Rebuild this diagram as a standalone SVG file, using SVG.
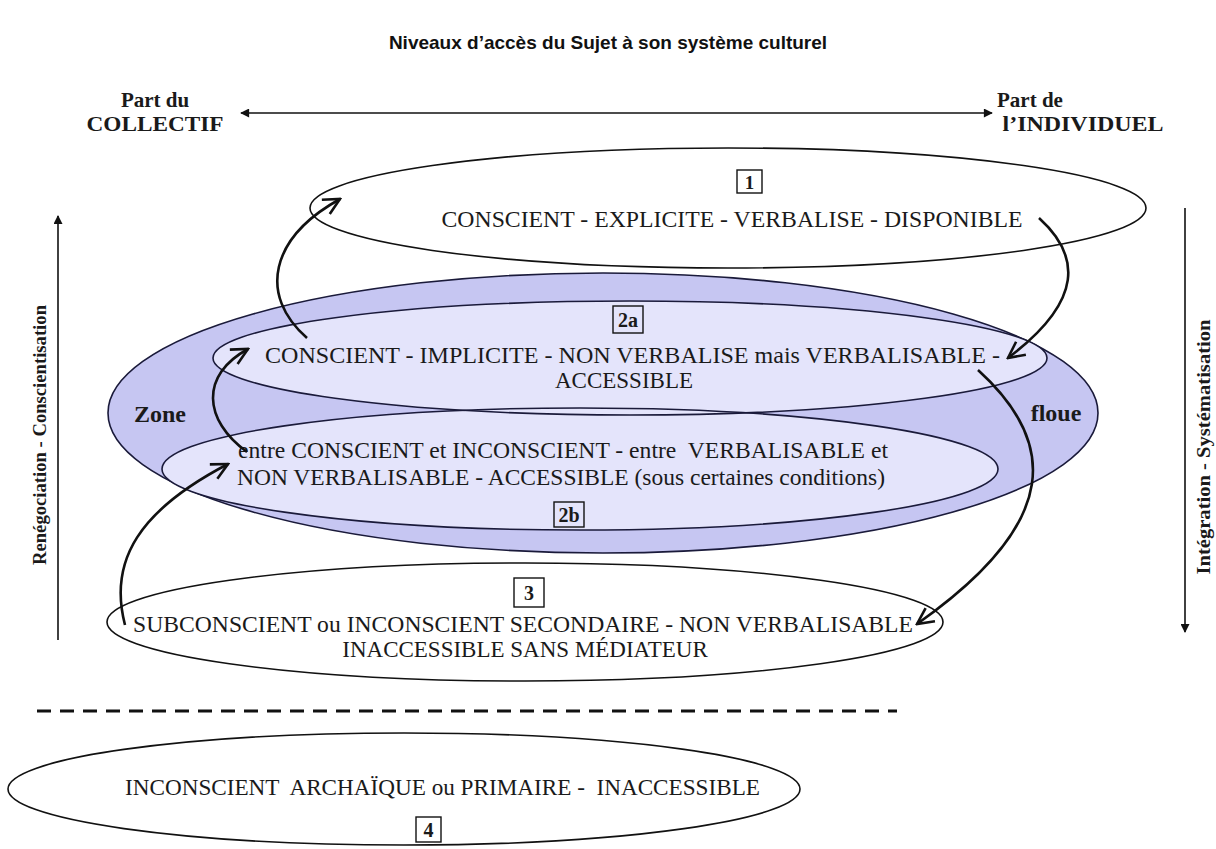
<svg xmlns="http://www.w3.org/2000/svg" width="1216" height="849" viewBox="0 0 1216 849">
<defs>
<style>
.t{font-family:"Liberation Serif","Times New Roman",serif;fill:#1a1a1a}
.b{font-weight:bold}
.ell{stroke:#111;stroke-width:1.6}
.zone{fill:#c6c6f2;stroke:#1a1a3a;stroke-width:1.6}
.inner{fill:#e4e4fb}
.innerS{fill:none;stroke:#1a1a3a;stroke-width:1.6}
.box{fill:none;stroke:#111;stroke-width:1.4}
.con{fill:none;stroke:#111;stroke-width:2.6}
.ax{fill:none;stroke:#111;stroke-width:1.6}
</style>
<marker id="open" viewBox="0 0 12 12" refX="11" refY="6" markerWidth="7.5" markerHeight="7.5" orient="auto" markerUnits="strokeWidth">
<path d="M1,1 L11,6 L1,11" fill="none" stroke="#111" stroke-width="1.6"/>
</marker>
<marker id="tri" viewBox="0 0 10 10" refX="9" refY="5" markerWidth="10" markerHeight="9" orient="auto-start-reverse" markerUnits="userSpaceOnUse">
<path d="M0,0 L10,5 L0,10 Z" fill="#111"/>
</marker>
</defs>
<rect width="1216" height="849" fill="#fff"/>

<text x="608" y="49" text-anchor="middle" style="font-family:'Liberation Sans',Arial,sans-serif;font-weight:bold;font-size:19px" fill="#111">Niveaux d’accès du Sujet à son système culturel</text>

<g id="axes">
<line class="ax" x1="241" y1="113" x2="992" y2="113" marker-start="url(#tri)" marker-end="url(#tri)"/>
<line class="ax" x1="58" y1="640" x2="58" y2="216" marker-end="url(#tri)"/>
<line class="ax" x1="1185" y1="208" x2="1185" y2="632" marker-end="url(#tri)"/>
<text class="t b" x="155" y="107" text-anchor="middle" font-size="21">Part du</text>
<text class="t b" x="155" y="131" text-anchor="middle" font-size="21" textLength="137" lengthAdjust="spacingAndGlyphs">COLLECTIF</text>
<text class="t b" x="1030" y="107" text-anchor="middle" font-size="21">Part de</text>
<text class="t b" x="1083" y="131" text-anchor="middle" font-size="21" textLength="161" lengthAdjust="spacingAndGlyphs">l’INDIVIDUEL</text>
<text class="t b" transform="translate(46,435) rotate(-90)" text-anchor="middle" font-size="19" textLength="260" lengthAdjust="spacingAndGlyphs">Renégociation - Conscientisation</text>
<text class="t b" transform="translate(1210,447) rotate(-90)" text-anchor="middle" font-size="19" textLength="255" lengthAdjust="spacingAndGlyphs">Intégration - Systématisation</text>
</g>

<g id="level1">
<ellipse class="ell" cx="728" cy="208" rx="418" ry="60" fill="#fff"/>
<rect class="box" x="737" y="170" width="25" height="23"/>
<text class="t b" x="749.5" y="189" text-anchor="middle" font-size="19">1</text>
<text class="t" x="732" y="227" text-anchor="middle" font-size="23" textLength="581" lengthAdjust="spacingAndGlyphs">CONSCIENT - EXPLICITE - VERBALISE - DISPONIBLE</text>
</g>

<g id="zone">
<ellipse class="zone" cx="603" cy="413" rx="495" ry="140"/>
<text class="t b" x="160" y="422" text-anchor="middle" font-size="24" fill="#1a1a3a">Zone</text>
<text class="t b" x="1056" y="421" text-anchor="middle" font-size="24" fill="#1a1a3a">floue</text>
</g>

<g id="level2a">
<ellipse class="inner" cx="630" cy="358" rx="417" ry="57"/>
</g>
<g id="level2b">
<ellipse class="inner" cx="580" cy="469" rx="418" ry="61"/>
</g>
<g id="level2-outlines">
<ellipse class="innerS" cx="630" cy="358" rx="417" ry="57"/>
<ellipse class="innerS" cx="580" cy="469" rx="418" ry="61"/>
<rect class="box" x="613" y="306" width="30" height="27"/>
<text class="t b" x="628" y="327" text-anchor="middle" font-size="20">2a</text>
<text class="t" x="265" y="363" font-size="23" textLength="735" lengthAdjust="spacingAndGlyphs">CONSCIENT - IMPLICITE - NON VERBALISE mais VERBALISABLE -</text>
<text class="t" x="624" y="388" text-anchor="middle" font-size="23" textLength="138" lengthAdjust="spacingAndGlyphs">ACCESSIBLE</text>
<text class="t" x="238" y="458" font-size="23" textLength="650" lengthAdjust="spacingAndGlyphs" xml:space="preserve">entre CONSCIENT et INCONSCIENT - entre  VERBALISABLE et</text>
<text class="t" x="237" y="485" font-size="23" textLength="648" lengthAdjust="spacingAndGlyphs">NON VERBALISABLE - ACCESSIBLE (sous certaines conditions)</text>
<rect class="box" x="554" y="502" width="30" height="25"/>
<text class="t b" x="569" y="522" text-anchor="middle" font-size="20">2b</text>
</g>

<g id="level3">
<ellipse class="ell" cx="525" cy="622" rx="418" ry="59" fill="#fff"/>
<rect class="box" x="514" y="578" width="30" height="29"/>
<text class="t b" x="529" y="600" text-anchor="middle" font-size="20">3</text>
<text class="t" x="133" y="632" font-size="23" textLength="780" lengthAdjust="spacingAndGlyphs">SUBCONSCIENT ou INCONSCIENT SECONDAIRE - NON VERBALISABLE</text>
<text class="t" x="525" y="657" text-anchor="middle" font-size="23">INACCESSIBLE SANS MÉDIATEUR</text>
</g>

<line x1="37" y1="711" x2="897" y2="711" stroke="#111" stroke-width="3" stroke-dasharray="14 9"/>

<g id="level4">
<ellipse class="ell" cx="404" cy="789" rx="396" ry="56" fill="#fff"/>
<text class="t" x="125" y="795" font-size="24" textLength="635" lengthAdjust="spacingAndGlyphs" xml:space="preserve">INCONSCIENT  ARCHAÏQUE ou PRIMAIRE -  INACCESSIBLE</text>
<rect class="box" x="416" y="817" width="25" height="25"/>
<text class="t b" x="428.5" y="837" text-anchor="middle" font-size="20">4</text>
</g>

<g id="connectors">
<path class="con" d="M307,338 C258,295 270,238 340,199" marker-end="url(#open)"/>
<path class="con" d="M1039,218 C1080,255 1085,300 1008,358" marker-end="url(#open)"/>
<path class="con" d="M978,370 C1055,440 1065,520 917,624" marker-end="url(#open)"/>
<path class="con" d="M125,625 C108,560 140,510 228,464" marker-end="url(#open)"/>
<path class="con" d="M247,452 C203,420 200,375 248,349" marker-end="url(#open)"/>
</g>
</svg>
